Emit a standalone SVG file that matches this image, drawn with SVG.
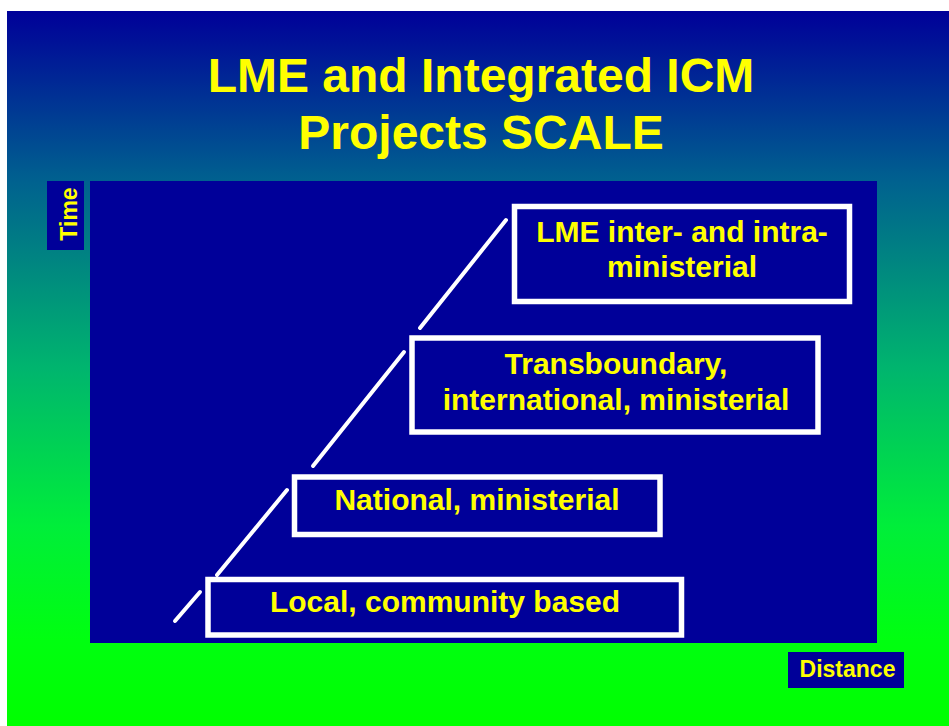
<svg xmlns="http://www.w3.org/2000/svg" width="949" height="726" viewBox="0 0 949 726">
  <defs>
    <linearGradient id="bg" x1="0" y1="11" x2="0" y2="726" gradientUnits="userSpaceOnUse">
      <stop offset="0" stop-color="#000099"/>
      <stop offset="0.24" stop-color="#00628f"/>
      <stop offset="0.5" stop-color="#00b56e"/>
      <stop offset="0.72" stop-color="#00ee3a"/>
      <stop offset="0.88" stop-color="#00ff10"/>
      <stop offset="1" stop-color="#00ff00"/>
    </linearGradient>
    <style>
      .t { font-family: "Liberation Sans", Arial, sans-serif; font-weight: bold; fill: #ffff00; text-anchor: middle; }
      .box { fill: #000099; stroke: #ffffff; stroke-width: 5.5; }
      .lbl { fill: #000099; }
      .ln { stroke: #ffffff; stroke-width: 4; stroke-linecap: round; }
    </style>
  </defs>
  <rect x="0" y="0" width="949" height="726" fill="#ffffff"/>
  <rect x="7" y="11" width="942" height="715" fill="url(#bg)"/>
  <g id="title">
    <text class="t" x="481" y="92" font-size="48">LME and Integrated ICM</text>
    <text class="t" x="481" y="149" font-size="48">Projects SCALE</text>
  </g>
  <rect id="panel" x="90" y="181" width="787" height="462" fill="#000099"/>
  <g id="time">
    <rect class="lbl" x="47" y="181" width="37" height="69"/>
    <text class="t" font-size="23" transform="translate(77,214) rotate(-90)">Time</text>
  </g>
  <g id="distance">
    <rect class="lbl" x="788" y="652" width="116" height="36"/>
    <text class="t" x="847.5" y="677" font-size="23">Distance</text>
  </g>
  <g id="connectors">
    <line class="ln" x1="175" y1="621" x2="200" y2="592"/>
    <line class="ln" x1="217" y1="575" x2="287" y2="490"/>
    <line class="ln" x1="313" y1="466" x2="404" y2="352"/>
    <line class="ln" x1="420" y1="328" x2="506" y2="220"/>
  </g>
  <g id="local">
    <rect class="box" x="208" y="579.5" width="473.5" height="55.5"/>
    <text class="t" x="445" y="612" font-size="30">Local, community based</text>
  </g>
  <g id="national">
    <rect class="box" x="294.5" y="477" width="365.5" height="57.5"/>
    <text class="t" x="477" y="510" font-size="30">National, ministerial</text>
  </g>
  <g id="transboundary">
    <rect class="box" x="412" y="338" width="406" height="94"/>
    <text class="t" x="616" y="374" font-size="30">Transboundary,</text>
    <text class="t" x="616" y="410" font-size="30">international, ministerial</text>
  </g>
  <g id="lme">
    <rect class="box" x="514.5" y="206.5" width="335" height="95"/>
    <text class="t" x="682" y="242" font-size="30">LME inter- and intra-</text>
    <text class="t" x="682" y="277" font-size="30">ministerial</text>
  </g>
</svg>
